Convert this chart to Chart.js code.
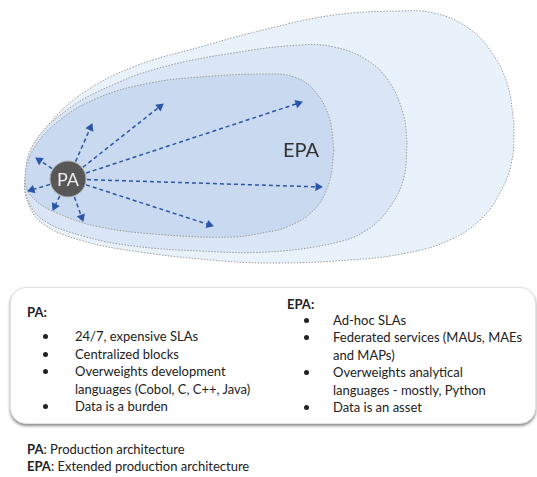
<!DOCTYPE html>
<html>
<head>
<meta charset="utf-8">
<script src="https://cdn.jsdelivr.net/npm/chart.js@4/dist/chart.umd.min.js"></script>
<style>
  html,body{margin:0;padding:0;background:#fff}
  #page{position:relative;width:537px;height:477px;overflow:hidden;font-family:'Lato','Open Sans',sans-serif;color:#222}
  #diagram{position:absolute;left:0;top:0}
  .box{position:absolute;left:10px;top:287px;width:524px;height:135px;border-radius:16px;
    border:1px solid #e2e2e2;box-shadow:0 2px 3px rgba(0,0,0,.45);background:#fff}
  .col{position:absolute;font-size:13px;line-height:17.5px}
  .col .head{font-weight:700;position:absolute;left:0;white-space:nowrap}
  .col .item{position:absolute;white-space:nowrap}
  .dot{position:absolute;width:5px;height:5px;border-radius:50%;background:#222;top:6px}
  .foot{position:absolute;left:27px;font-size:13px;line-height:17px;white-space:nowrap}
</style>
</head>
<body>
<div id="page">
  <canvas id="diagram" width="537" height="280"></canvas>
  <div class="box"></div>
  <div id="colPA" class="col" style="left:27px;top:304px"></div>
  <div id="colEPA" class="col" style="left:287px;top:296px"></div>
  <div id="footer"></div>
</div>
<script>
/* ---------- diagram values (y grows downward) ---------- */
const paCenter = [68, 179];
const arrowTips = [
  [302,102],[322,187],[213,226],[163,104],[92,124],[36,158],[28,191],[53,210],[83,221]
];
const innerEgg = [
  [334,150],[329,183],[314,210],[287,227],[267,232],[233,237],[167,235],[100,227],[57,213],
  [33,198],[25,180],[33,150],[60,120],[100,97],[150,83],[200,77],[267,74],[294,77],
  [314,90],[329,117],[334,150]
];
const middleEgg = [
  [407,143],[404,177],[390,207],[367,230],[334,243],[267,252],[200,251],[133,246],[83,236],
  [43,220],[28,200],[25,180],[33,145],[67,110],[117,83],[167,66],[233,53],[300,45],
  [334,47],[367,60],[390,83],[404,117],[407,143]
];
const outerEgg = [
  [514,123],[512,160],[500,193],[480,220],[450,240],[407,253],[350,260],[267,263],[200,259],
  [133,251],[83,241],[43,224],[28,203],[25,180],[33,150],[50,123],[83,93],[133,67],
  [200,47],[267,29],[334,15],[400,11],[434,13],[467,27],[490,50],[507,83],[514,123]
];
const eggFills = ['#c9daf0', '#dae6f6', '#e9f1fb'];

/* ---------- text ---------- */
const paHead = 'PA:';
const paItems = [['24/7, expensive SLAs'], ['Centralized blocks'],
  ['Overweights development', 'languages (Cobol, C, C++, Java)'], ['Data is a burden']];
const epaHead = 'EPA:';
const epaItems = [['Ad-hoc SLAs'], ['Federated services (MAUs, MAEs', 'and MAPs)'],
  ['Overweights analytical', 'languages - mostly, Python'], ['Data is an asset']];
const footNotes = [['PA', ': Production architecture'], ['EPA', ': Extended production architecture']];

const ARROW = '#2c55a8';
const pt = a => ({x:a[0], y:a[1]});

function eggSet(points, color){
  return {
    data: points.map(pt), showLine:true, tension:0.4, pointRadius:0,
    fill:'shape', backgroundColor:color,
    borderColor:'#9d9d9d', borderWidth:1, borderDash:[1.5,1.5]
  };
}

function arrowSet(tip){
  const dx = tip[0]-paCenter[0], dy = tip[1]-paCenter[1];
  const len = Math.hypot(dx,dy), ux = dx/len, uy = dy/len;
  const start = [paCenter[0]+ux*19, paCenter[1]+uy*19];
  const head  = [tip[0]-ux*4, tip[1]-uy*4];
  return {
    data:[pt(start), pt(head)], showLine:true, fill:false,
    borderColor:ARROW, borderWidth:1.5, borderDash:[4,3],
    pointRadius:[0,5], pointStyle:'triangle',
    pointRotation:[0, Math.atan2(dx,-dy)*180/Math.PI],
    pointBackgroundColor:ARROW, pointBorderWidth:0
  };
}

const circleSet = {
  data:[pt(paCenter)], pointRadius:18, pointBackgroundColor:'#575757',
  pointBorderColor:'#b0b0b0', pointBorderWidth:1, showLine:false
};

const diagramLabels = [
  {text:'PA',  at:paCenter,  size:18, color:'#eeeeee'},
  {text:'EPA', at:[301,150], size:20, color:'#333333'}
];

const labelPlugin = {
  id:'labels',
  afterDatasetsDraw(chart){
    const {ctx, scales:{x, y}} = chart;
    ctx.save();
    ctx.textAlign = 'center'; ctx.textBaseline = 'middle';
    diagramLabels.forEach(l=>{
      ctx.font = `${l.size}px Lato, 'Open Sans', sans-serif`;
      ctx.fillStyle = l.color;
      ctx.fillText(l.text, x.getPixelForValue(l.at[0]), y.getPixelForValue(l.at[1])+1);
    });
    ctx.restore();
  }
};

new Chart(document.getElementById('diagram'), {
  type:'scatter',
  data:{ datasets:[
    circleSet,
    ...arrowTips.map(arrowSet),
    eggSet(innerEgg, eggFills[0]),
    eggSet(middleEgg, eggFills[1]),
    eggSet(outerEgg, eggFills[2])
  ]},
  options:{
    responsive:false, animation:false, events:[],
    layout:{padding:0, autoPadding:false},
    plugins:{ legend:{display:false}, tooltip:{enabled:false} },
    scales:{
      x:{ type:'linear', min:0, max:537, display:false },
      y:{ type:'linear', min:0, max:280, reverse:true, display:false }
    }
  },
  plugins:[labelPlugin]
});

/* ---------- text box ---------- */
function fillCol(el, head, items, firstGap){
  let html = `<div class="head" style="top:0">${head}</div>`;
  let top = firstGap;
  items.forEach(lines=>{
    html += `<div class="dot" style="left:${el.id==='colPA'?16:17}px;top:${top+6}px"></div>`;
    lines.forEach(line=>{
      html += `<div class="item" style="left:${el.id==='colPA'?48:46}px;top:${top}px">${line}</div>`;
      top += 17.5;
    });
  });
  el.innerHTML = html;
}
fillCol(document.getElementById('colPA'), paHead, paItems, 24);
fillCol(document.getElementById('colEPA'), epaHead, epaItems, 15.5);

document.getElementById('footer').innerHTML = footNotes.map((f,i)=>
  `<div class="foot" style="top:${441+i*17}px"><b>${f[0]}</b>${f[1]}</div>`).join('');
</script>
</body>
</html>
